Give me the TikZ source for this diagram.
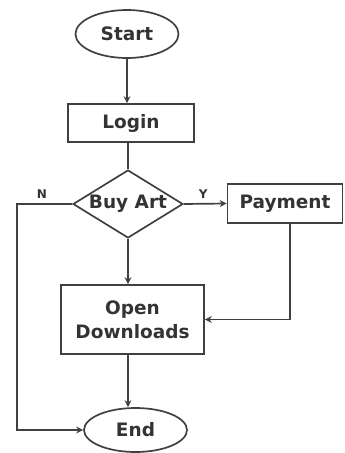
\documentclass[tikz,border=0pt]{standalone}
\usepackage{fontspec}
\setmainfont{DejaVu Sans}
\usetikzlibrary{shapes.geometric,arrows.meta}
\begin{document}
\begin{tikzpicture}[x=1pt,y=-1pt,
  every node/.style={font=\bfseries\fontsize{18.5}{21}\selectfont, text=black!80},
  shp/.style={draw=black!75, line width=1.7pt, inner sep=0pt},
  ell/.style={shp, ellipse},
  box/.style={shp, rectangle},
  dia/.style={shp, diamond},
  conn/.style={draw=black!75, line width=1.7pt},
  arr/.style={conn, -{Stealth[length=7pt,width=7pt]}},
  lbl/.style={font=\bfseries\fontsize{12}{14}\selectfont}
]
\useasboundingbox (0,0) rectangle (345,453);
\node[ell, minimum width=103, minimum height=48] (start) at (127,34) {Start};
\node[box, minimum width=126, minimum height=38] (login) at (131,123) {Login};
\node[dia, minimum width=110, minimum height=68] (buy) at (128,204) {};
\node (buytext) at (buy) {Buy Art};
\node[box, minimum width=115, minimum height=39] (pay) at (285,203.5) {Payment};
\node[box, minimum width=143, minimum height=69, align=center] (open) at (132.5,319.5) {Open\\[3pt]Downloads};
\node[ell, minimum width=103, minimum height=44] (end) at (135.5,430) {End};
\coordinate (nl) at (17,204);
\coordinate (pd) at (290,223);
\draw[arr] (start.south) -- (start.south |- login.north);
\draw[conn] (buy.north |- login.south) -- (buy.north);
\draw[arr] (buy.east) -- node[lbl, above=1pt, pos=0.45] (ylab) {Y} (pay.west);
\draw[arr] (buy.west) -- node[lbl, above=1pt, pos=0.55] (nlab) {N} (nl) |- (end.west);
\draw[arr] (buy.south) -- (buy.south |- open.north);
\draw[arr] (pay.south -| pd) |- (open.east);
\draw[arr] (buy.south |- open.south) -- (buy.south |- end.north);
\end{tikzpicture}
\end{document}
